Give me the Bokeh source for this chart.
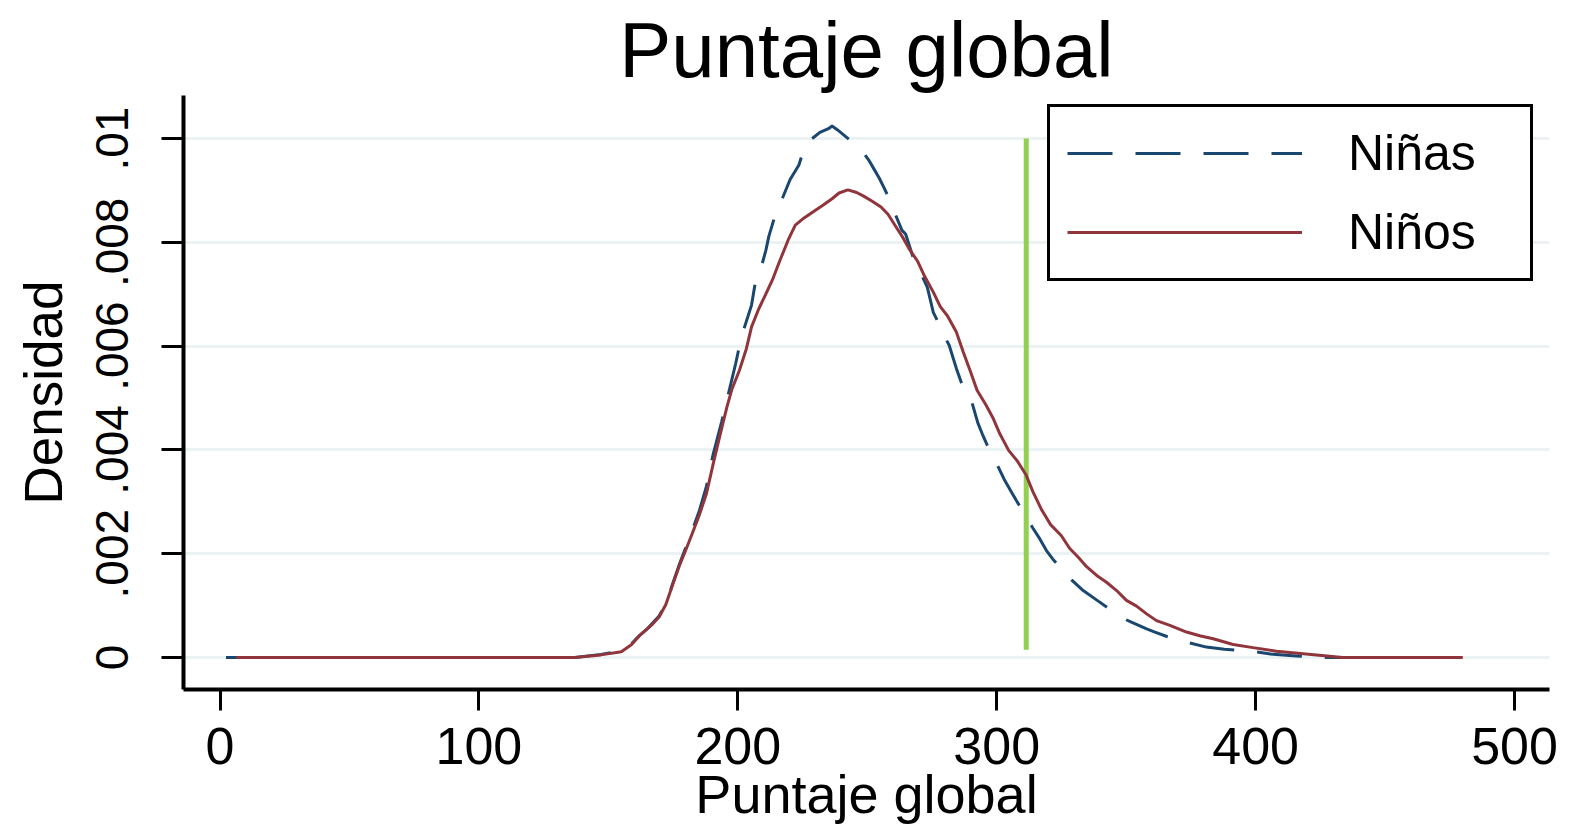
from bokeh.plotting import figure
from bokeh.models import (FixedTicker, CustomJSTickFormatter, Legend, LegendItem,
                          Range1d)
from bokeh.embed import file_html
from bokeh.resources import INLINE

FONT = "Liberation Sans"

# ---- data ----
x_ninas = [2.3, 137.1, 147.1, 154.0, 159.0, 162.0, 165.0, 167.0, 169.6, 172.2,
           174.9, 177.6, 179.9, 182.4, 185.1, 187.9, 190.4, 193.8, 196.5, 199.2,
           201.3, 202.8, 205.3, 206.7, 208.1, 210.8, 212.0, 214.1, 217.9, 220.2,
           223.6, 226.3, 229.0, 231.7, 235.0, 236.4, 238.4, 247.5, 250.5, 252.5,
           254.6, 256.5, 258.7, 261.4, 263.4, 264.8, 267.5, 270.2, 272.1, 273.2,
           275.5, 277.6, 278.9, 281.6, 284.4, 286.4, 288.4, 290.4, 292.7, 294.4,
           297.2, 298.5, 302.9, 306.0, 309.4, 314.0, 316.7, 319.2, 321.6, 325.2,
           329.0, 333.4, 338.8, 343.1, 347.3, 352.0, 357.9, 361.1, 366.0, 372.0,
           381.0, 387.9, 398.4, 406.8, 415.7, 423.5, 433.7]
y_ninas = [0.0, 0.0, 0.00006, 0.00012, 0.00027, 0.00042, 0.00055, 0.00066, 0.00080, 0.00104,
           0.00143, 0.00182, 0.00212, 0.00245, 0.00282, 0.00330, 0.00390, 0.00455, 0.00511, 0.00567,
           0.00616, 0.00640, 0.00679, 0.00721, 0.00735, 0.00784, 0.00812, 0.00847, 0.00893, 0.00921,
           0.00949, 0.00992, 0.01001, 0.01012, 0.01019, 0.01024, 0.01017, 0.00980, 0.00959, 0.00942,
           0.00924, 0.00905, 0.00881, 0.00847, 0.00823, 0.00816, 0.00774, 0.00746, 0.00725, 0.00713,
           0.00665, 0.00644, 0.00627, 0.00602, 0.00557, 0.00529, 0.00508, 0.00492, 0.00452, 0.00431,
           0.00399, 0.00389, 0.00343, 0.00316, 0.00287, 0.00249, 0.00228, 0.00206, 0.00190, 0.00170,
           0.00149, 0.00129, 0.00110, 0.00095, 0.00079, 0.00068, 0.00055, 0.00049, 0.00040, 0.00031,
           0.00020, 0.00016, 0.00012, 0.00006, 0.00003, 0.0, 0.0]

x_ninos = [6.3, 137.1, 147.1, 155.0, 159.0, 162.0, 165.0, 167.0, 169.6, 172.2,
           174.9, 177.6, 179.9, 182.4, 185.1, 187.9, 190.4, 193.1, 195.8, 197.8,
           200.6, 203.3, 205.3, 208.1, 210.8, 213.4, 216.1, 219.5, 222.2, 225.6,
           229.7, 233.0, 236.4, 239.1, 242.5, 245.9, 248.6, 251.9, 255.3, 258.0,
           260.7, 263.4, 266.1, 269.5, 272.1, 275.5, 278.2, 281.0, 284.4, 287.1,
           289.7, 292.4, 295.8, 298.5, 301.2, 304.6, 307.9, 311.3, 314.0, 317.4,
           320.8, 324.9, 328.2, 331.5, 334.7, 338.6, 342.4, 346.3, 350.1, 354.0,
           357.9, 361.7, 366.9, 373.3, 378.4, 383.6, 391.3, 399.0, 408.1, 423.5,
           433.6, 480.0]
y_ninos = [0.0, 0.0, 0.00005, 0.00011, 0.00025, 0.00042, 0.00055, 0.00064, 0.00078, 0.00102,
           0.00141, 0.00179, 0.00207, 0.00239, 0.00274, 0.00316, 0.00371, 0.00428, 0.00483, 0.00518,
           0.00553, 0.00595, 0.00637, 0.00672, 0.00700, 0.00728, 0.00763, 0.00805, 0.00833, 0.00847,
           0.00861, 0.00872, 0.00884, 0.00895, 0.00901, 0.00896, 0.00889, 0.00879, 0.00868, 0.00854,
           0.00833, 0.00812, 0.00788, 0.00763, 0.00735, 0.00704, 0.00676, 0.00658, 0.00627, 0.00588,
           0.00553, 0.00515, 0.00487, 0.00462, 0.00431, 0.00399, 0.00379, 0.00352, 0.00319, 0.00284,
           0.00256, 0.00235, 0.00210, 0.00193, 0.00175, 0.00158, 0.00145, 0.00129, 0.00110, 0.00099,
           0.00084, 0.00071, 0.00062, 0.00049, 0.00042, 0.00036, 0.00025, 0.00019, 0.00012, 0.00005,
           0.0, 0.0]

cutoff_x = 311.4
cutoff_y = [0.00015, 0.0100]

x_ticks = [0, 100, 200, 300, 400, 500]
y_ticks = [0, 0.002, 0.004, 0.006, 0.008, 0.01]

title_text = "Puntaje global"
x_label = "Puntaje global"
y_label = "Densidad"
series_labels = ["Niñas", "Niños"]

NAVY = "#1A476F"
MAROON = "#90353B"
GREEN = "#92D050"
GRID = "#EAF2F3"

p = figure(width=1570, height=826, output_backend="svg", toolbar_location=None,
           x_range=Range1d(-14.1, 513.5), y_range=Range1d(-0.000617, 0.010829),
           min_border_left=183, min_border_right=21, min_border_top=95,
           min_border_bottom=137)

p.title.text = title_text
p.title.text_font = FONT
p.title.text_font_size = "78px"
p.title.text_font_style = "normal"
p.title.text_color = "black"
p.title.align = "center"
p.title.standoff = 4

p.outline_line_color = None
p.background_fill_color = "white"
p.border_fill_color = "white"

for ax in (p.xaxis[0], p.yaxis[0]):
    ax.axis_line_width = 4
    ax.axis_line_color = "black"
    ax.major_tick_line_width = 3
    ax.major_tick_line_color = "black"
    ax.major_tick_in = 0
    ax.minor_tick_in = 0
    ax.minor_tick_out = 0
    ax.major_label_text_font = FONT
    ax.major_label_text_color = "black"
    ax.axis_label_text_font = FONT
    ax.axis_label_text_font_style = "normal"
    ax.axis_label_text_color = "black"

p.xaxis.ticker = FixedTicker(ticks=x_ticks)
p.xaxis.major_tick_out = 21
p.xaxis.major_label_standoff = 17
p.xaxis.major_label_text_font_size = "52px"
p.xaxis.axis_label = x_label
p.xaxis.axis_label_text_font_size = "54px"
p.xaxis.axis_label_standoff = -3

p.yaxis.ticker = FixedTicker(ticks=y_ticks)
p.yaxis.formatter = CustomJSTickFormatter(code="""
    if (tick == 0) { return "0"; }
    return tick.toFixed(3).replace(/^0/, "").replace(/0+$/, "");
""")
p.yaxis.major_label_orientation = "vertical"
p.yaxis.major_tick_out = 22
p.yaxis.major_label_standoff = 33
p.yaxis.major_label_text_font_size = "46px"
p.yaxis.axis_label = y_label
p.yaxis.axis_label_text_font_size = "53px"
p.yaxis.axis_label_standoff = 21

p.xgrid.visible = False
p.ygrid.grid_line_color = GRID
p.ygrid.grid_line_width = 3

p.segment(x0=[cutoff_x], y0=[cutoff_y[0]], x1=[cutoff_x], y1=[cutoff_y[1]],
          line_color=GREEN, line_width=5)
r1 = p.line(x_ninas, y_ninas, line_color=NAVY, line_width=3, line_dash="45 23")
r2 = p.line(x_ninos, y_ninos, line_color=MAROON, line_width=3)

legend = Legend(items=[LegendItem(label=series_labels[0], renderers=[r1]),
                       LegendItem(label=series_labels[1], renderers=[r2])],
                location=(864, 408), orientation="vertical",
                border_line_color="black", border_line_width=3,
                border_line_alpha=1.0,
                background_fill_color="white", background_fill_alpha=1.0,
                padding=17, spacing=21, margin=0,
                glyph_width=235, glyph_height=56, label_height=56,
                label_width=165, label_standoff=46,
                label_text_font=FONT, label_text_font_size="50px",
                label_text_color="black")
p.add_layout(legend)

open("out.html", "w").write(file_html(p, INLINE))
